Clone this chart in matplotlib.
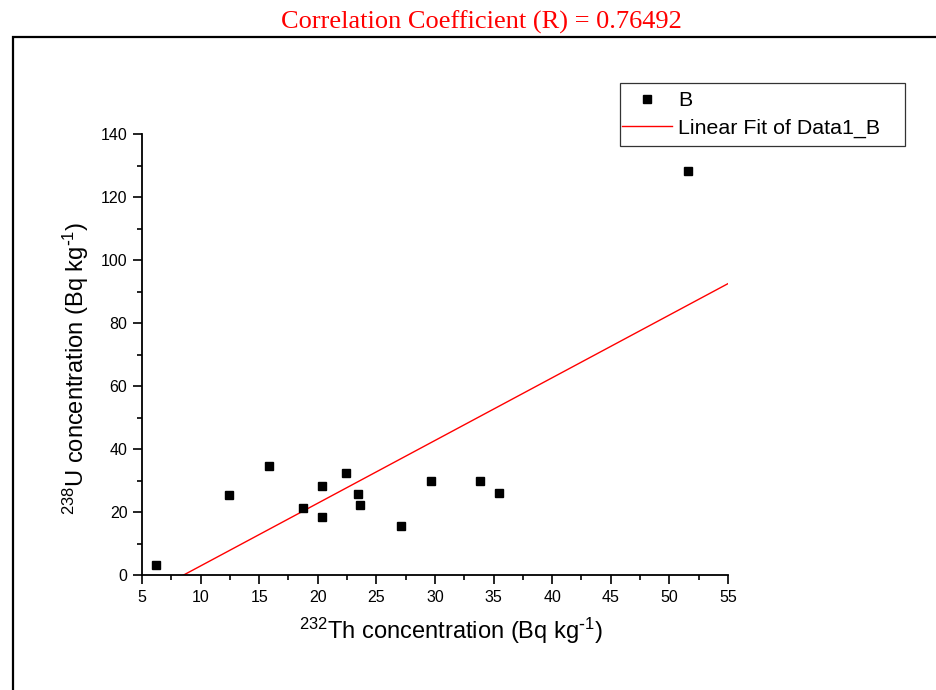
import matplotlib.pyplot as plt
import numpy as np
from matplotlib.ticker import MultipleLocator

# Dados
th232 = [6.2, 12.4, 15.8, 18.7, 20.4, 20.4, 22.4, 23.4, 23.6, 27.1, 29.7, 33.8, 35.5, 51.6]
u238 = [3.3, 25.3, 34.7, 21.2, 28.3, 18.3, 32.3, 25.6, 22.2, 15.6, 29.9, 29.7, 25.9, 128.3]

titulo = 'Correlation Coefficient (R) = 0.76492'
xticks = [5, 10, 15, 20, 25, 30, 35, 40, 45, 50, 55]
yticks = [0, 20, 40, 60, 80, 100, 120, 140]

plt.rcParams['font.family'] = ['Liberation Sans', 'DejaVu Sans']
plt.rcParams['mathtext.default'] = 'regular'

fig = plt.figure(figsize=(9.37, 6.9), dpi=100)
ax = fig.add_axes([142 / 937, 1 - 575 / 690, 586 / 937, 441 / 690])

# moldura externa (cortada à direita e embaixo)
moldura = plt.Rectangle((13 / 937, -0.1), 1.2, 1.1 - 37 / 690, transform=fig.transFigure,
                        fill=False, edgecolor='black', linewidth=1.6)
fig.patches.append(moldura)

fig.text(481 / 937, 1 - 22 / 690, titulo, color='red', ha='center', va='center',
         fontsize=19, family=['Liberation Serif'])

ax.plot(th232, u238, 's', color='black', markersize=6.3, label='B', zorder=3)

# ajuste linear
coef = np.polyfit(th232, u238, 1)
xfit = np.array([5, 55])
ax.plot(xfit, np.polyval(coef, xfit), color='red', linewidth=1, label='Linear Fit of Data1_B')

ax.set_xlim(5, 55)
ax.set_ylim(0, 140)
ax.set_xticks(xticks)
ax.set_yticks(yticks)
ax.xaxis.set_minor_locator(MultipleLocator(2.5))
ax.yaxis.set_minor_locator(MultipleLocator(10))

for lado in ['top', 'right']:
    ax.spines[lado].set_visible(False)
for lado in ['left', 'bottom']:
    ax.spines[lado].set_linewidth(1.3)

ax.tick_params(which='major', direction='out', length=6.5, width=1.2, labelsize=11.5, pad=4)
ax.tick_params(which='minor', direction='out', length=3.5, width=1.2)

ax.set_xlabel(r'$^{232}$Th concentration (Bq kg$^{\text{-}1}$)', fontsize=17)
ax.set_ylabel(r'$^{238}$U concentration (Bq kg$^{\text{-}1}$)', fontsize=17)
ax.xaxis.set_label_coords(0.527, -0.092)
ax.yaxis.set_label_coords(-0.087, 0.468)

# legenda sem moldura + caixa desenhada à parte
leg = ax.legend(loc='upper left', bbox_to_anchor=(622 / 937, 1 - 91 / 690),
                bbox_transform=fig.transFigure, fontsize=15.4, frameon=False,
                borderpad=0, handlelength=2.35, handletextpad=0.28,
                labelspacing=0.4, borderaxespad=0)
caixa = plt.Rectangle((620 / 937, 1 - 146 / 690), 285 / 937, 63 / 690,
                      transform=fig.transFigure, fill=False, edgecolor='#333333', linewidth=0.9)
fig.patches.append(caixa)

fig.savefig('out.png', dpi=100)
